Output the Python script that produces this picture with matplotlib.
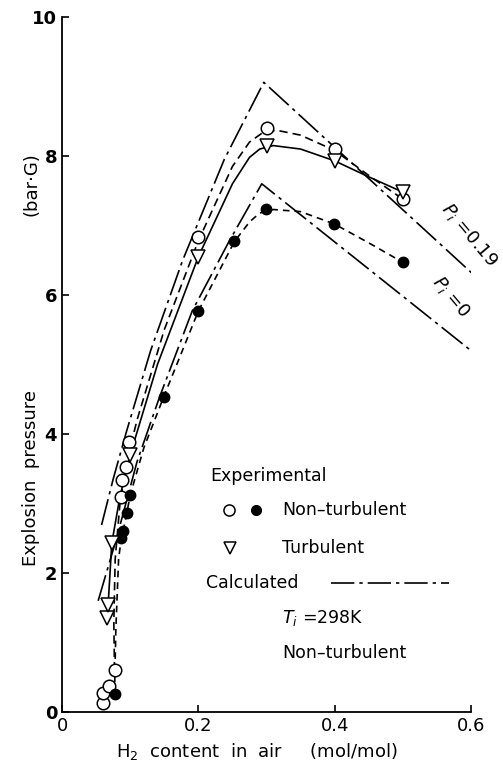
import numpy as np
import matplotlib
matplotlib.use('Agg')
import matplotlib.pyplot as plt

# experimental points, P_i = 0.19 (open circles, non-turbulent)
oc_x = [0.060, 0.060, 0.069, 0.077, 0.086, 0.088, 0.094, 0.098, 0.199, 0.300, 0.401, 0.500]
oc_y = [0.13, 0.27, 0.37, 0.60, 3.10, 3.34, 3.53, 3.89, 6.83, 8.40, 8.10, 7.38]

# experimental points, P_i = 0 (filled circles, non-turbulent)
fc_x = [0.077, 0.087, 0.090, 0.095, 0.099, 0.149, 0.200, 0.253, 0.299, 0.399, 0.500]
fc_y = [0.26, 2.51, 2.60, 2.86, 3.12, 4.53, 5.77, 6.77, 7.24, 7.02, 6.47]

# turbulent points (triangles)
tr_x = [0.066, 0.067, 0.073, 0.099, 0.199, 0.300, 0.400, 0.500]
tr_y = [1.35, 1.54, 2.43, 3.70, 6.55, 8.15, 7.93, 7.48]

ocfit_x = [0.077, 0.076, 0.078, 0.085, 0.095, 0.11, 0.15, 0.20, 0.25, 0.275, 0.295, 0.315, 0.35, 0.40, 0.45, 0.50]
ocfit_y = [0.60, 1.30, 2.20, 3.00, 3.60, 4.20, 5.50, 6.78, 7.85, 8.20, 8.34, 8.37, 8.30, 8.08, 7.72, 7.38]

fcfit_x = [0.077, 0.079, 0.083, 0.087, 0.090, 0.095, 0.100, 0.120, 0.149, 0.200, 0.253, 0.275, 0.29, 0.31, 0.350, 0.400, 0.450, 0.500]
fcfit_y = [0.26, 1.20, 2.20, 2.51, 2.62, 2.86, 3.12, 3.80, 4.53, 5.77, 6.77, 7.05, 7.18, 7.23, 7.20, 7.02, 6.75, 6.47]

trfit_x = [0.066, 0.068, 0.073, 0.085, 0.100, 0.140, 0.200, 0.250, 0.275, 0.290, 0.310, 0.350, 0.400, 0.450, 0.500]
trfit_y = [1.35, 1.60, 2.43, 3.10, 3.70, 5.00, 6.55, 7.60, 7.98, 8.10, 8.15, 8.10, 7.93, 7.70, 7.48]

# calculated curves
calc19_x = [0.058, 0.075, 0.095, 0.130, 0.177, 0.238, 0.296, 0.603]
calc19_y = [2.69, 3.35, 4.05, 5.20, 6.50, 7.95, 9.06, 6.30]

calc0_x = [0.053, 0.080, 0.110, 0.143, 0.191, 0.245, 0.293, 0.600]
calc0_y = [1.60, 2.50, 3.60, 4.53, 5.77, 6.77, 7.60, 5.20]

xticks = [0, 0.2, 0.4, 0.6]
xticklabels = ['0', '0.2', '0.4', '0.6']
yticks = [0, 2, 4, 6, 8, 10]

plt.rcParams['font.family'] = 'DejaVu Sans'

fig = plt.figure(figsize=(5.03, 7.73), dpi=100)
ax = fig.add_axes([0.1233, 0.0789, 0.8131, 0.8991])

calc_dash = (16, 3, 2, 3)
ax.plot(calc19_x, calc19_y, color='black', lw=1.2, dashes=calc_dash)
ax.plot(calc0_x, calc0_y, color='black', lw=1.2, dashes=calc_dash)
ax.plot(ocfit_x, ocfit_y, color='black', lw=1.2, dashes=(5, 3))
ax.plot(fcfit_x, fcfit_y, color='black', lw=1.2, dashes=(4, 3))
ax.plot(trfit_x, trfit_y, color='black', lw=1.2)

ax.plot(oc_x, oc_y, 'o', ms=9, mfc='white', mec='black', mew=1.1, clip_on=False)
ax.plot(fc_x, fc_y, 'o', ms=7.5, mfc='black', mec='black', clip_on=False)
ax.plot(tr_x, tr_y, 'v', ms=10, mfc='white', mec='black', mew=1.1, clip_on=False)

ax.set_xlim(0, 0.6)
ax.set_ylim(0, 10)
ax.spines['top'].set_visible(False)
ax.spines['right'].set_visible(False)
ax.spines['left'].set_linewidth(1.3)
ax.spines['bottom'].set_linewidth(1.3)
ax.set_xticks(xticks)
ax.set_xticklabels(xticklabels)
ax.set_yticks(yticks)
ax.tick_params(direction='in', length=5, width=1.2, labelsize=13)
for lab in ax.get_yticklabels():
    lab.set_fontweight('bold')

# curve labels
ax.text(0.598, 6.86, '$P_i$ =0.19', rotation=-50, fontsize=13, ha='center', va='center', clip_on=False)
ax.text(0.570, 5.97, '$P_i$ =0', rotation=-50, fontsize=13, ha='center', va='center', clip_on=False)

# legend block
ax.text(0.217, 3.39, 'Experimental', fontsize=12.5, va='center')
ax.plot([0.245], [2.90], 'o', ms=8, mfc='white', mec='black', mew=1.1)
ax.plot([0.285], [2.90], 'o', ms=7, mfc='black', mec='black')
ax.text(0.323, 2.90, 'Non\u2013turbulent', fontsize=12.5, va='center')
ax.plot([0.246], [2.36], 'v', ms=8, mfc='white', mec='black', mew=1.1)
ax.text(0.323, 2.36, 'Turbulent', fontsize=12.5, va='center')
ax.text(0.211, 1.86, 'Calculated', fontsize=12.5, va='center')
ax.plot([0.395, 0.568], [1.86, 1.86], color='black', lw=1.2, dashes=(14, 3, 2, 3))
ax.text(0.323, 1.35, '$T_i$ =298K', fontsize=12.5, va='center')
ax.text(0.323, 0.85, 'Non\u2013turbulent', fontsize=12.5, va='center')

fig.text(0.062, 0.382, 'Explosion  pressure', rotation=90, fontsize=13, ha='center', va='center')
fig.text(0.062, 0.762, '(bar\u00b7G)', rotation=90, fontsize=13, ha='center', va='center')
fig.text(0.51, 0.028, 'H$_2$  content  in  air     (mol/mol)', fontsize=13, ha='center', va='center')

fig.savefig('out.png', dpi=100)
